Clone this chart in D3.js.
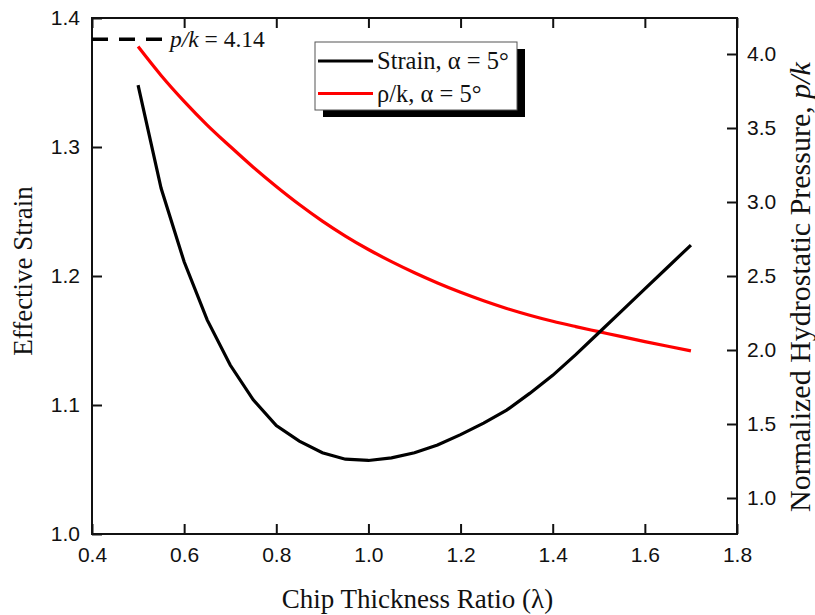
<!DOCTYPE html>
<html>
<head>
<meta charset="utf-8">
<script src="https://cdn.jsdelivr.net/npm/d3@7"></script>
<style>
  body { margin: 0; background: #fff; }
  text { fill: #111; }
</style>
</head>
<body>
<svg id="chart" width="815" height="615"></svg>
<script>
// chip thickness ratio values (lambda)
let lambda = [0.5, 0.55, 0.6, 0.65, 0.7, 0.75, 0.8, 0.85, 0.9, 0.95, 1.0,
              1.05, 1.1, 1.15, 1.2, 1.25, 1.3, 1.35, 1.4, 1.45, 1.5, 1.55, 1.6, 1.65, 1.7]
// effective strain, alpha = 5 deg
let strain = [1.348, 1.268, 1.211, 1.166, 1.131, 1.104, 1.084, 1.072, 1.063, 1.058, 1.057,
              1.059, 1.063, 1.069, 1.077, 1.086, 1.096, 1.109, 1.123, 1.139, 1.156, 1.173, 1.190, 1.207, 1.224]
// normalized hydrostatic pressure p/k
let pk = [4.05, 3.855, 3.68, 3.52, 3.375, 3.235, 3.105, 2.983, 2.871, 2.77, 2.679,
          2.597, 2.522, 2.453, 2.39, 2.333, 2.281, 2.235, 2.194, 2.158, 2.124,
          2.09, 2.057, 2.025, 1.994]

let xTicks = [0.4, 0.6, 0.8, 1.0, 1.2, 1.4, 1.6, 1.8]
let strainTicks = [1.0, 1.1, 1.2, 1.3, 1.4]
let pkTicks = [1.0, 1.5, 2.0, 2.5, 3.0, 3.5, 4.0]
let pkLimit = 4.1   // dashed reference line, labelled p/k = 4.14

let svg = d3.select('#chart'),
    pLeft = 92, pRight = 737, pTop = 18, pBottom = 534

let x = d3.scaleLinear().domain([0.4, 1.8]).range([pLeft, pRight])
let yL = d3.scaleLinear().domain([1.0, 1.4]).range([pBottom, pTop])
let yR = d3.scaleLinear().domain([1.0, 4.0]).range([498, 54])

let serif = "'Liberation Serif', 'Times New Roman', serif",
    sans = "'Liberation Sans', Arial, sans-serif"

// axes, all ticks point inward
let styleAxis = g => {
  g.select('.domain').remove()
  g.selectAll('line').attr('stroke', '#111').attr('stroke-width', 2)
  g.selectAll('text').attr('font-family', sans).attr('font-size', 21).style('fill', '#111')
}

svg.append('g').attr('transform', `translate(0,${pBottom})`)
  .call(d3.axisBottom(x).tickValues(xTicks).tickFormat(d3.format('.1f'))
    .tickSizeInner(-10).tickSizeOuter(0).tickPadding(13))
  .call(styleAxis)

svg.append('g').attr('transform', `translate(0,${pTop})`)
  .call(d3.axisTop(x).tickValues(xTicks).tickFormat('').tickSizeInner(-10).tickSizeOuter(0))
  .call(styleAxis)

svg.append('g').attr('transform', `translate(${pLeft},0)`)
  .call(d3.axisLeft(yL).tickValues(strainTicks).tickFormat(d3.format('.1f'))
    .tickSizeInner(-10).tickSizeOuter(0).tickPadding(12))
  .call(styleAxis)

svg.append('g').attr('transform', `translate(${pRight},0)`)
  .call(d3.axisRight(yR).tickValues(pkTicks).tickFormat(d3.format('.1f'))
    .tickSizeInner(-10).tickSizeOuter(0).tickPadding(10))
  .call(styleAxis)

// frame
svg.append('rect')
  .attr('x', pLeft).attr('y', pTop)
  .attr('width', pRight - pLeft).attr('height', pBottom - pTop)
  .attr('fill', 'none').attr('stroke', '#111').attr('stroke-width', 2)

// curves
let strainLine = d3.line().x((d, i) => x(lambda[i])).y(d => yL(d))
let pkLine = d3.line().x((d, i) => x(lambda[i])).y(d => yR(d)).curve(d3.curveMonotoneX)

svg.append('path').datum(pk)
  .attr('d', pkLine).attr('fill', 'none')
  .attr('stroke', '#ff0000').attr('stroke-width', 3.2)

svg.append('path').datum(strain)
  .attr('d', strainLine).attr('fill', 'none')
  .attr('stroke', '#000').attr('stroke-width', 3.2)

// dashed limit line
svg.append('line')
  .attr('x1', x(0.4)).attr('x2', x(0.555))
  .attr('y1', yR(pkLimit)).attr('y2', yR(pkLimit))
  .attr('stroke', '#000').attr('stroke-width', 3.5)
  .attr('stroke-dasharray', '16,11')

let lim = svg.append('text')
  .attr('x', 170).attr('y', yR(pkLimit) + 8)
  .attr('font-family', serif).attr('font-size', 23.5)
lim.append('tspan').attr('font-style', 'italic').text('p/k')
lim.append('tspan').text(' = 4.14')

// legend with drop shadow
let lg = svg.append('g').attr('transform', 'translate(315,42)')
lg.append('rect').attr('x', 8).attr('y', 7).attr('width', 202).attr('height', 68).attr('fill', '#000')
lg.append('rect').attr('x', 0).attr('y', 0).attr('width', 202).attr('height', 68)
  .attr('fill', '#fff').attr('stroke', '#555').attr('stroke-width', 1)

let legendItems = [
  {label: 'Strain, α = 5°', color: '#000'},
  {label: 'ρ/k, α = 5°', color: '#ff0000'}
]
legendItems.forEach((item, i) => {
  let yy = 19 + i * 32.5
  lg.append('line').attr('x1', 3).attr('x2', 58).attr('y1', yy).attr('y2', yy)
    .attr('stroke', item.color).attr('stroke-width', 3.2)
  lg.append('text').attr('x', 62).attr('y', yy + 8)
    .attr('font-family', serif).attr('font-size', 24.5).text(item.label)
})

// axis titles
svg.append('text')
  .attr('x', (pLeft + pRight) / 2 + 3).attr('y', 608)
  .attr('text-anchor', 'middle')
  .attr('font-family', serif).attr('font-size', 27)
  .text('Chip Thickness Ratio (λ)')

svg.append('text')
  .attr('transform', `translate(32,271) rotate(-90)`)
  .attr('text-anchor', 'middle')
  .attr('font-family', serif).attr('font-size', 27)
  .text('Effective Strain')

let rt = svg.append('text')
  .attr('transform', `translate(810,287) rotate(-90)`)
  .attr('text-anchor', 'middle')
  .attr('font-family', serif).attr('font-size', 30)
rt.append('tspan').text('Normalized Hydrostatic Pressure, ')
rt.append('tspan').attr('font-style', 'italic').text('p/k')
</script>
</body>
</html>
